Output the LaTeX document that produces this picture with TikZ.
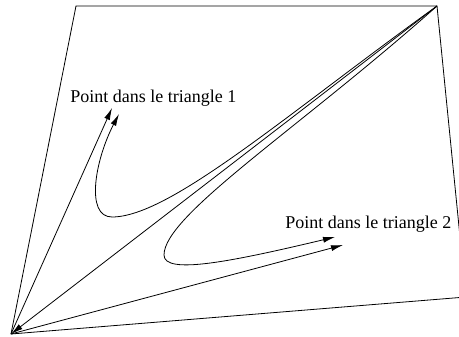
\documentclass[tikz,border=0pt]{standalone}
\usepackage{fontspec}
\setmainfont{Liberation Serif}
\usetikzlibrary{arrows.meta}
\begin{document}
\begin{tikzpicture}[x=1pt,y=-1pt,line width=0.8pt,
  fleche/.style={-{Latex[length=12pt,width=6pt]}},
  etiquette/.style={anchor=base west,inner sep=0pt,font=\fontsize{18}{20}\selectfont}]
%
% Cadre de l'image
\clip (0,0) rectangle (459,337);
%
% Sommets du quadrilatere
\coordinate (BL) at (11,334);
\coordinate (TL) at (76,6);
\coordinate (TR) at (437,6);
\coordinate (BR) at (466,297);
% Points dans les triangles
\coordinate (P1) at (112,108);
\coordinate (Q1) at (119,114);
\coordinate (P2) at (343,245);
\coordinate (Q2) at (335,237);
%
% Quadrilatere et diagonale
\draw (BL) -- (TL) -- (TR) -- (BR) -- cycle;
\draw[fleche] (TR) -- (BL);
%
% --- Triangle 1 ---
\draw[fleche] (BL) -- (P1);
\draw[fleche] (TR) .. controls (287,114) and (170,217) .. (112,217)
  .. controls (85,217) and (95,160) .. (Q1);
\node[etiquette] (lab1) at (70,103) {Point dans le triangle 1};
%
% --- Triangle 2 ---
\draw[fleche] (BL) -- (P2);
\draw[fleche] (TR) .. controls (300,128) and (164,215) .. (164,255)
  .. controls (164,275) and (230,262) .. (Q2);
\node[etiquette] (lab2) at (285,229) {Point dans le triangle 2};
\end{tikzpicture}
\end{document}
